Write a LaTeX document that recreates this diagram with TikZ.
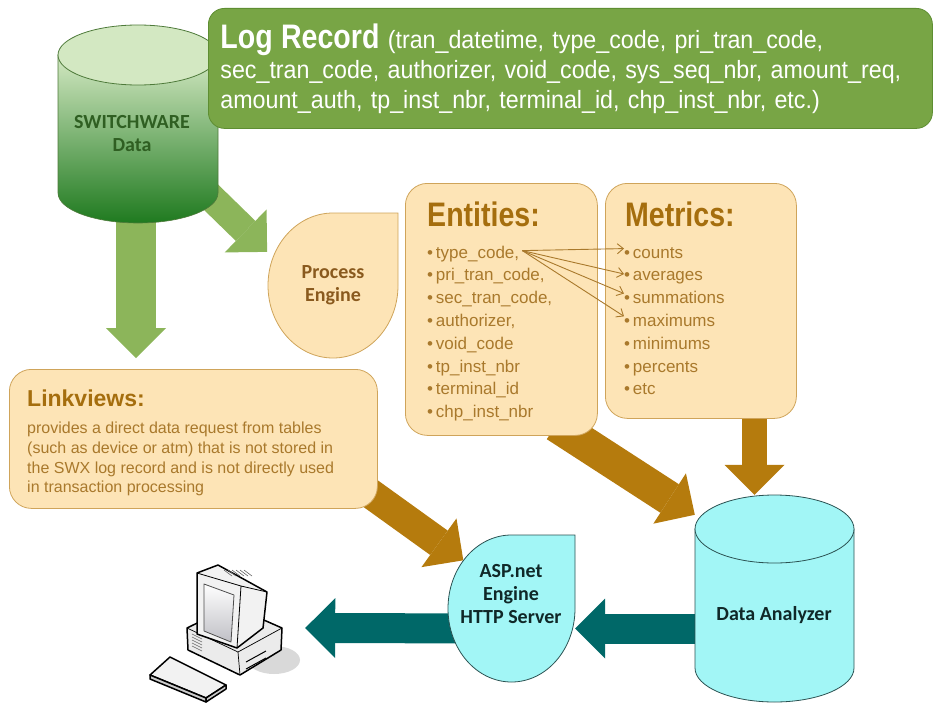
\documentclass[tikz,border=0pt]{standalone}
\usepackage{fontspec}
\setmainfont{Liberation Sans}
\newfontfamily\narrowfont[FakeStretch=0.84]{Liberation Sans}
\newfontfamily\logfont[FakeStretch=0.93]{Liberation Sans}
\newfontfamily\labelfont{Carlito}
\usetikzlibrary{arrows.meta,positioning,calc,backgrounds,shapes.geometric}

\definecolor{logfill}{HTML}{78A545}
\definecolor{logline}{HTML}{5E8E32}
\definecolor{leaf}{HTML}{8CB55A}
\definecolor{swtop}{HTML}{D3E8C2}
\definecolor{swmid}{HTML}{8DC06E}
\definecolor{swbot}{HTML}{1F7A1F}
\definecolor{swline}{HTML}{4E7A3A}
\definecolor{swtext}{HTML}{2F5F22}
\definecolor{peach}{HTML}{FDE4B6}
\definecolor{peachline}{HTML}{CFA45A}
\definecolor{pebrown}{HTML}{8A5A1E}
\definecolor{ochre}{HTML}{B57B0D}
\definecolor{titlebrown}{HTML}{A56E0E}
\definecolor{itembrown}{HTML}{A9792C}
\definecolor{deepteal}{HTML}{006868}
\definecolor{aqua}{HTML}{A2F6F6}
\definecolor{aqualine}{HTML}{2B5252}
\definecolor{ink}{HTML}{102828}

\begin{document}
\begin{tikzpicture}[x=1pt, y=-1pt,
  box/.style={draw=peachline, fill=peach, line width=0.8pt, rounded corners=22pt},
  fat/.style={line width=#1, -{Triangle[length=30pt, width=60pt, line width=0pt]}},
  heading/.style={font={\narrowfont\bfseries\fontsize{34}{36}\selectfont}, text=titlebrown, inner sep=0pt, anchor=west},
  item/.style={font={\fontsize{17}{20}\selectfont}, text=itembrown, inner sep=0pt, anchor=base west},
  tag/.style={font={\labelfont\bfseries\fontsize{20}{23}\selectfont}, align=center, inner sep=0pt},
  fanout/.style={draw=itembrown, line width=0.9pt, -{Straight Barb[length=6pt, width=10pt]}},
  drop/.style={ellipse, inner sep=0pt}]

  \useasboundingbox (0,0) rectangle (939,709);

  % switchware data
  \node[minimum width=160pt, minimum height=198pt, inner sep=0pt] (sw) at (138,124) {};
  \shadedraw[top color=swtop, middle color=swmid, bottom color=swbot, draw=swline, line width=0.6pt]
    (58,55) -- (58,193) arc[start angle=180, end angle=0, x radius=80, y radius=30] -- (218,55) -- cycle;
  \filldraw[fill=swtop, draw=swline, line width=0.8pt] (138,55) ellipse[x radius=80, y radius=30];
  \node[tag, text=swtext] (swlabel) at (132,134) {SWITCHWARE\\Data};

  % log record
  \node[draw=logline, fill=logfill, rounded corners=16pt, line width=0.8pt, anchor=north west,
        minimum width=724pt, minimum height=120pt, text width=700pt, inner xsep=12pt, align=left,
        text=white, font={\logfont\fontsize{25}{30}\selectfont}] (log) at (208,8)
    {{\narrowfont\bfseries\fontsize{34}{30}\selectfont Log Record} (tran\_datetime, type\_code, pri\_tran\_code,\\
     sec\_tran\_code, authorizer, void\_code, sys\_seq\_nbr, amount\_req,\\
     amount\_auth, tp\_inst\_nbr, terminal\_id, chp\_inst\_nbr, etc.)};

  % process engine
  \filldraw[fill=peach, draw=peachline, line width=0.8pt]
    (398,213) -- (398,285.5) arc[start angle=0, end angle=270, x radius=65, y radius=72.5] -- cycle;
  \node[drop, minimum width=130pt, minimum height=145pt] (pe) at (333,285.5) {};
  \node[tag, text=pebrown] (pelabel) at (pe.center) {Process\\Engine};

  % entities and metrics
  \node[box, anchor=north west, minimum width=192pt, minimum height=252pt] (ent) at (405,183) {};
  \node[box, anchor=north west, minimum width=191pt, minimum height=235pt] (met) at (605,183) {};
  \node[heading] (entt) at (427,214) {Entities:};
  \node[heading] (mett) at (625,214) {Metrics:};
  \foreach \t [count=\i] in {{type\_code,},{pri\_tran\_code,},{sec\_tran\_code,},{authorizer,},
      {void\_code},{tp\_inst\_nbr},{terminal\_id},{chp\_inst\_nbr}}
    \node[item] (e\i) at (427,{258+22.8*(\i-1)}) {\textbullet\,\t};
  \foreach \t [count=\i] in {counts,averages,summations,maximums,minimums,percents,etc}
    \node[item] (m\i) at (624,{258+22.8*(\i-1)}) {\textbullet\,\t};
  \foreach \i in {1,...,4}
    \draw[fanout] ([xshift=3pt,yshift=3pt]e1.east) -- ([yshift=4pt]m\i.west);

  % linkviews
  \node[box, anchor=north west, minimum width=368pt, minimum height=139pt] (lv) at (9,369) {};
  \node[anchor=west, inner sep=0pt, font={\bfseries\fontsize{23}{24}\selectfont}, text=titlebrown] (lvt) at (27,398) {Linkviews:};
  \node[anchor=north west, inner sep=0pt, align=left, font={\fontsize{16}{19.7}\selectfont}, text=itembrown] (lvb) at (27,422)
    {provides a direct data request from tables\\(such as device or atm) that is not stored in\\the SWX log record and is not directly used\\in transaction processing};

  % data analyzer
  \filldraw[fill=aqua, draw=aqualine, line width=0.8pt]
    (695,529) -- (695,668) arc[start angle=180, end angle=0, x radius=79.5, y radius=34] -- (854,529) -- cycle;
  \filldraw[fill=aqua, draw=aqualine, line width=0.8pt] (774.5,529) ellipse[x radius=79.5, y radius=34];
  \node[minimum width=159pt, minimum height=207pt, inner sep=0pt] (da) at (774.5,598.5) {};
  \node[tag, text=ink] (dalabel) at (774,615) {Data Analyzer};

  % asp.net engine
  \filldraw[fill=aqua, draw=aqualine, line width=0.8pt]
    (575,535) -- (575,608.5) arc[start angle=0, end angle=270, x radius=63.5, y radius=73.5] -- cycle;
  \node[drop, minimum width=127pt, minimum height=147pt] (asp) at (511.5,608.5) {};
  \node[tag, text=ink] (asplabel) at (511,594) {ASP.net\\Engine\\HTTP Server};

  % computer
  \node[minimum width=166pt, minimum height=146pt, inner sep=0pt] (pc) at (222,628) {};
  \fill[black!15] (274,660) ellipse[x radius=26, y radius=14];
  \begin{scope}[line width=1.5pt, line join=round]
    \filldraw[fill=black!8] (187,628) -- (188,650) -- (240,675) -- (281,650) -- (282,628) -- (232,606) -- cycle;
    \draw[line width=0.7pt] (187,628) -- (238,652) -- (282,628) (238,652) -- (240,675);
    \foreach \k in {0,...,4} \draw[line width=0.6pt, black!60] (192,{634+3*\k}) -- (202,{639+3*\k});
    \draw[line width=1pt] (246,662) -- (266,651) (246,669) -- (266,658);
    \filldraw[fill=black!5] (197,573) -- (218,565) -- (267,592) -- (263,628) -- (237,648) -- (197,634) -- cycle;
    \draw[line width=0.8pt] (197,573) -- (241,586) -- (267,592) (241,586) -- (237,648);
    \shadedraw[top color=white, bottom color=blue!10!black!25, draw=black!70, line width=0.8pt]
      (204,584) -- (234,595) -- (231,642) -- (204,631) -- cycle;
    \foreach \k in {0,...,5} \draw[line width=0.6pt, black!60] ({224+4*\k},570) -- ({232+4*\k},576);
    \filldraw[fill=black!5] (150,675) -- (170,657) -- (226,685) -- (206,698) -- cycle;
    \filldraw[fill=black!20] (150,675) -- (206,698) -- (206,702) -- (150,679) -- cycle;
    \filldraw[fill=black!20] (206,698) -- (226,685) -- (226,689) -- (206,702) -- cycle;
  \end{scope}

  % block arrows
  \begin{pgfonlayer}{background}
    \draw[fat=40pt, leaf, shorten <=-20pt, shorten >=11pt] ([xshift=-2pt]sw.south) -- ([xshift=-2pt]sw.south |- lv.north);
    \draw[fat=28pt, leaf, shorten <=-25pt, shorten >=8pt] (sw.-45) -- (pe.155);
    \draw[fat=30pt, ochre, shorten <=-15pt] ([yshift=10pt]lv.south east) -- (asp.135);
    \draw[fat=34pt, ochre, shorten <=-20pt] ([xshift=-25pt]ent.south east) -- ([yshift=-20pt]da.north west);
    \draw[fat=25pt, ochre, shorten <=-10pt] ([xshift=-20pt]da.north |- met.south) -- ([xshift=-20pt]da.north);
    \draw[fat=30pt, deepteal] ([yshift=-30pt]da.west) -- ([yshift=-20pt]asp.east);
    \draw[fat=30pt, deepteal] ([yshift=-20pt]asp.center) -- (pc.east);
  \end{pgfonlayer}
\end{tikzpicture}
\end{document}
